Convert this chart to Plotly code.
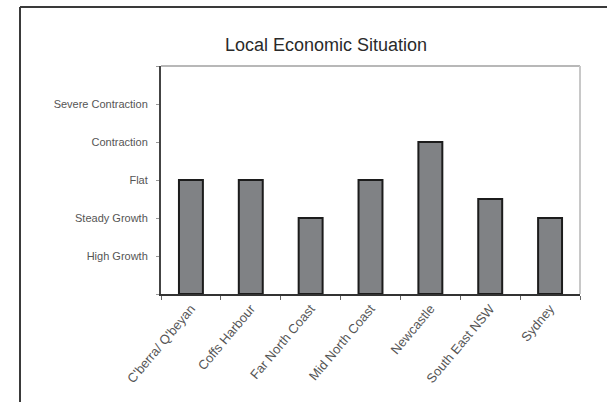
import plotly.graph_objects as go

categories = ["C'berra/ Q'beyan", "Coffs Harbour", "Far North Coast", "Mid North Coast",
              "Newcastle", "South East NSW", "Sydney"]
values = [3, 3, 2, 3, 4, 2.5, 2]
level_vals = [0, 1, 2, 3, 4, 5, 6]
level_text = ["", "High Growth", "Steady Growth", "Flat", "Contraction", "Severe Contraction", ""]

W, H = 607, 402
L, R, T, B = 161, 580, 66, 294


def px_x(px):
    return (px - L) / (R - L)


def px_y(py):
    return (B - py) / (B - T)


fig = go.Figure()
fig.add_trace(go.Bar(
    x=categories, y=values, width=0.4,
    marker=dict(color="#808285", line=dict(color="#1c1c1c", width=2)),
))

shapes = [
    # outer frame
    dict(type="line", xref="paper", yref="paper", x0=px_x(20), x1=px_x(612), y0=px_y(7), y1=px_y(7),
         line=dict(color="#3a3a3a", width=2)),
    dict(type="line", xref="paper", yref="paper", x0=px_x(20), x1=px_x(20), y0=px_y(7), y1=px_y(410),
         line=dict(color="#3a3a3a", width=2)),
    # plot box top/right (light)
    dict(type="line", xref="paper", yref="paper", x0=0, x1=1, y0=1, y1=1,
         line=dict(color="#b8b8b8", width=2), layer="below"),
    dict(type="line", xref="paper", yref="paper", x0=1, x1=1, y0=0, y1=1,
         line=dict(color="#c8c8c8", width=2), layer="below"),
]

fig.update_layout(
    width=W, height=H,
    margin=dict(l=L, r=W - R, t=T, b=H - B, pad=0),
    paper_bgcolor="white", plot_bgcolor="white",
    showlegend=False,
    shapes=shapes,
    font=dict(family="Liberation Sans, Arial, sans-serif", color="#555555"),
    annotations=[dict(text="Local Economic Situation", xref="paper", yref="paper",
                      x=px_x(325.5), y=px_y(44.5), xanchor="center", yanchor="middle",
                      showarrow=False, font=dict(size=18, color="#2a2a2a"))],
    xaxis=dict(type="category", showline=True, linecolor="#333333", linewidth=2,
               ticks="outside", tickson="boundaries", ticklen=4, tickcolor="#666666",
               tickangle=-50, tickfont=dict(size=13, color="#555555"),
               showgrid=False, zeroline=False),
    yaxis=dict(range=[0, 6], tickmode="array", tickvals=level_vals, ticktext=level_text,
               showline=True, linecolor="#444444", linewidth=2,
               ticks="outside", ticklen=3, tickcolor="#999999",
               ticklabelstandoff=6,
               tickfont=dict(size=11, color="#555555"),
               showgrid=False, zeroline=False),
)

fig.write_html("out.html", config={"displayModeBar": False},
               post_script="document.body.style.margin='0';document.body.style.padding='0';")
